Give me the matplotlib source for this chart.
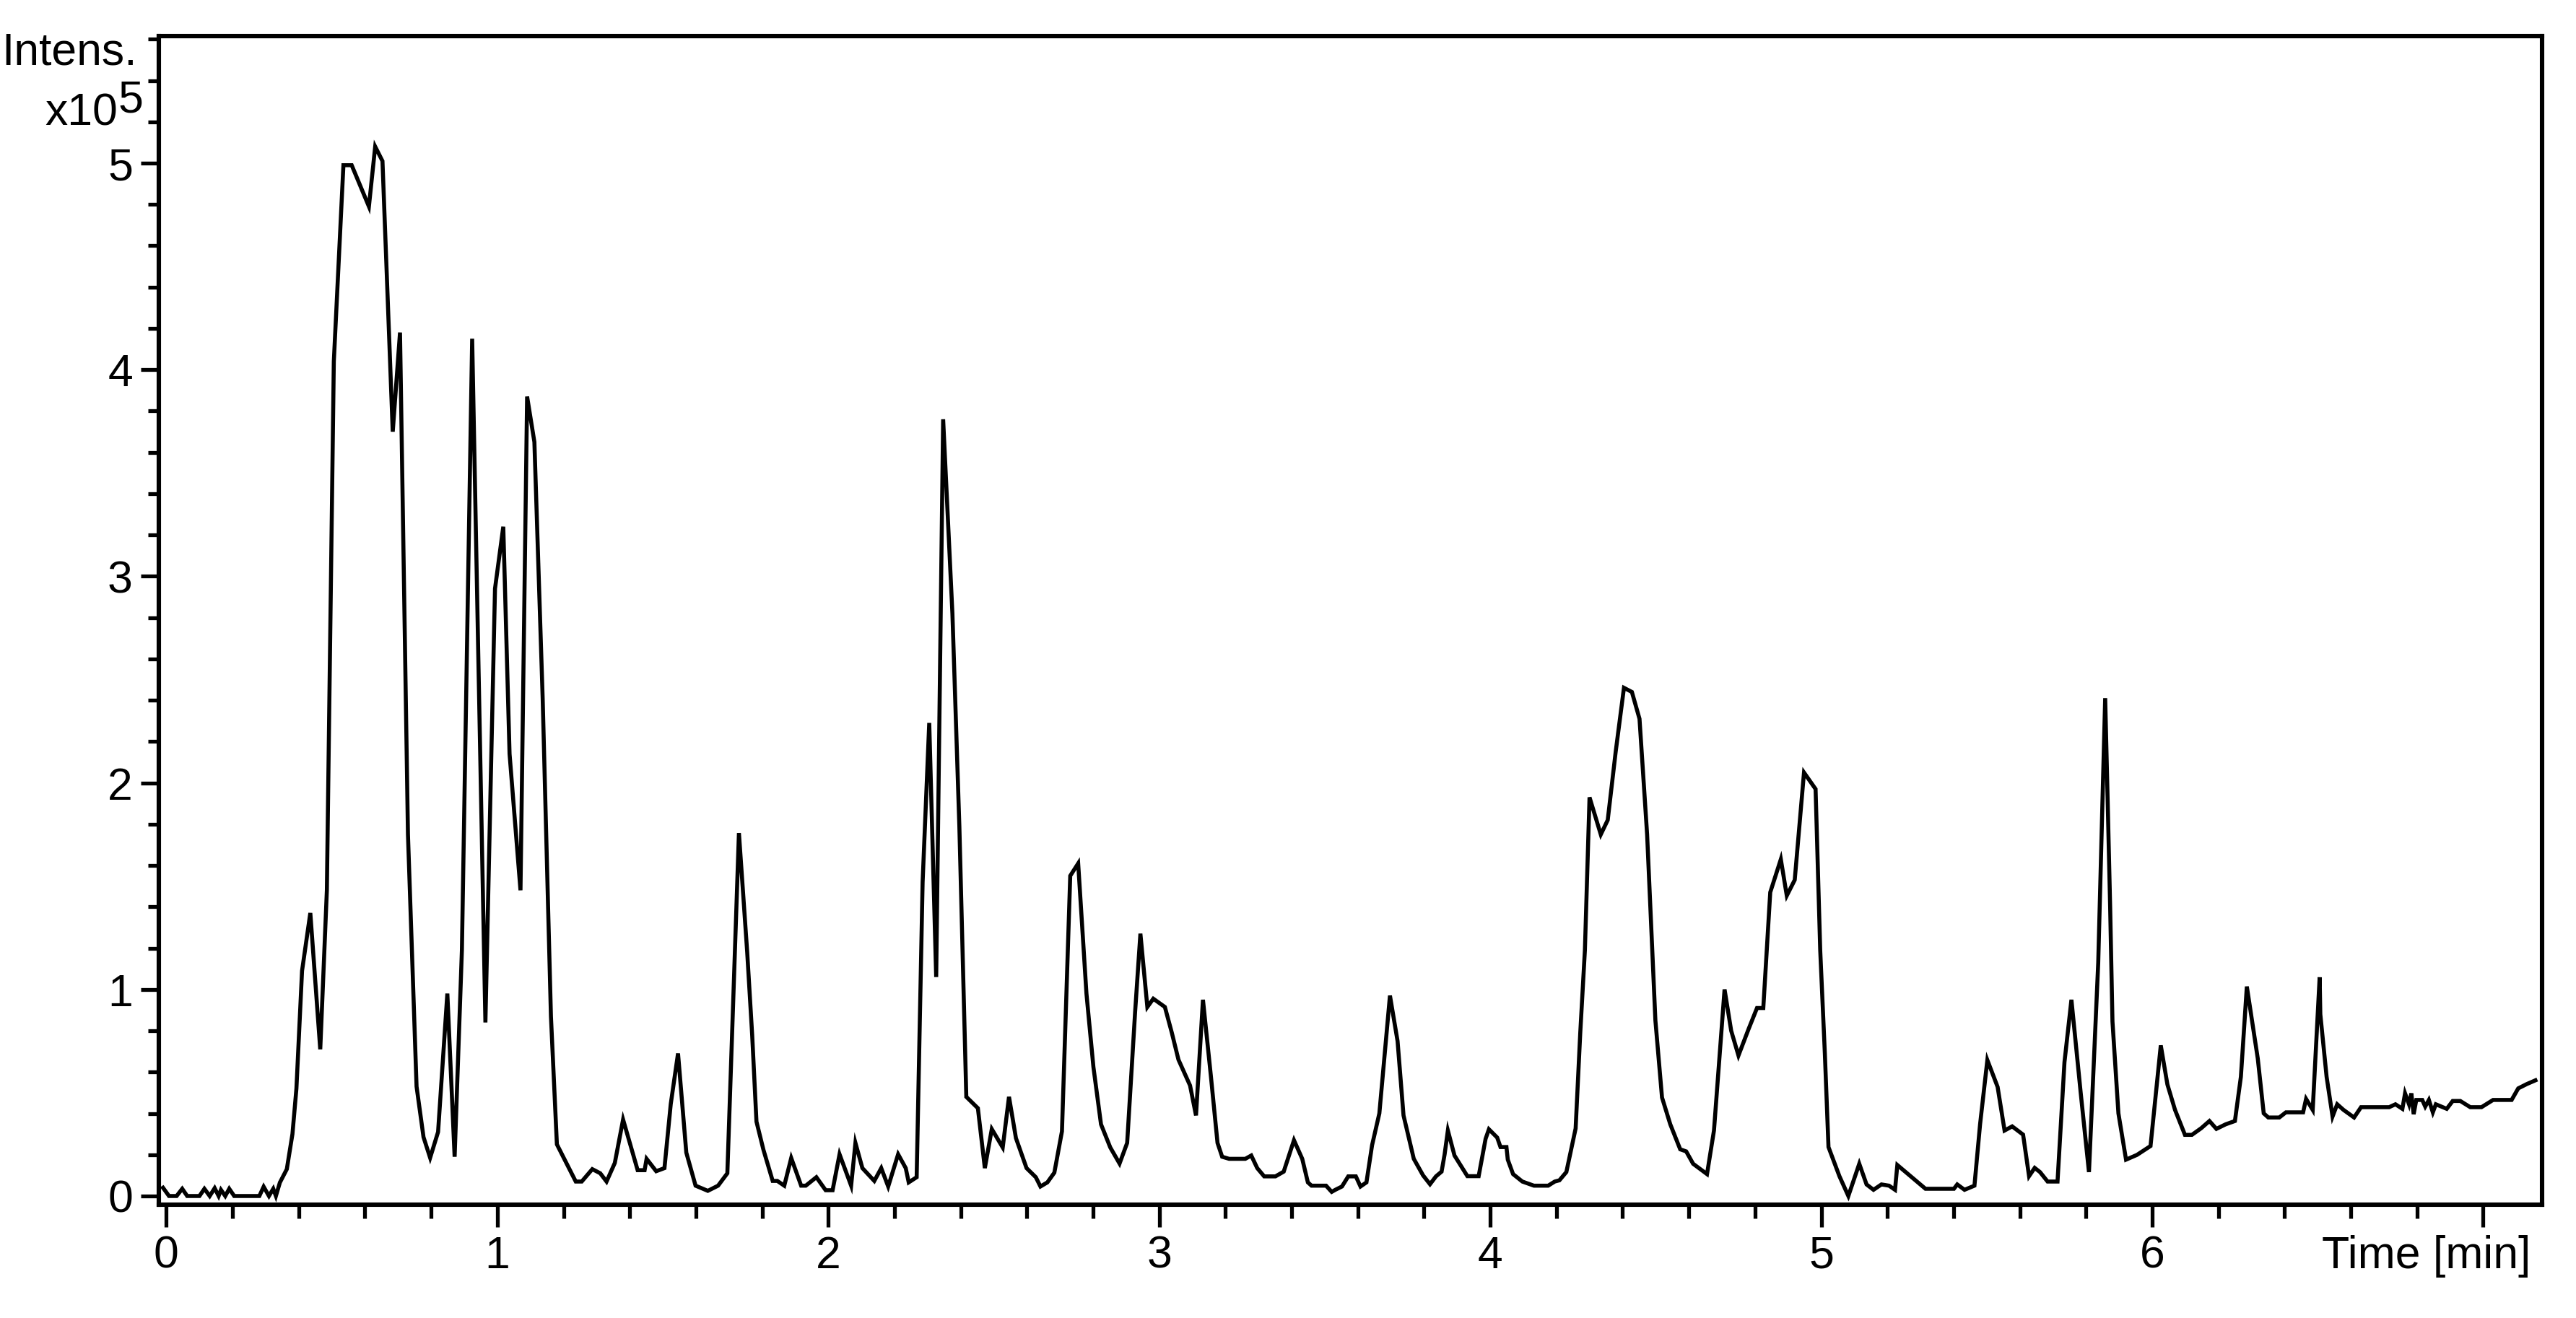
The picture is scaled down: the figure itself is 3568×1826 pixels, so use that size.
import matplotlib
matplotlib.use("Agg")
import matplotlib.pyplot as plt
from matplotlib.ticker import MultipleLocator, FixedLocator, FixedFormatter

# chromatogram trace, time in min, intensity in units of 1e5
time_min = [
    -0.01, 0.008, 0.031, 0.048, 0.063, 0.10, 0.115, 0.131, 0.146, 0.158,
    0.165, 0.178, 0.19, 0.205, 0.281, 0.294, 0.31, 0.323, 0.331, 0.343,
    0.364, 0.381, 0.393, 0.410, 0.435, 0.465, 0.485, 0.506, 0.535, 0.560,
    0.612, 0.631, 0.653, 0.684, 0.706, 0.730, 0.756, 0.777, 0.797, 0.821,
    0.849, 0.871, 0.893, 0.924, 0.964, 0.993, 1.018, 1.037, 1.070, 1.090,
    1.112, 1.137, 1.162, 1.180, 1.237, 1.255, 1.287, 1.311, 1.330, 1.355,
    1.380, 1.405, 1.424, 1.445, 1.451, 1.480, 1.505, 1.524, 1.546, 1.571,
    1.599, 1.636, 1.667, 1.695,
    1.730, 1.755, 1.770, 1.783, 1.804, 1.832, 1.846, 1.867, 1.888, 1.918,
    1.932, 1.964, 1.992, 2.013, 2.034, 2.069, 2.082, 2.103, 2.139, 2.160,
    2.181, 2.211, 2.234, 2.243, 2.267, 2.285, 2.305, 2.326, 2.347, 2.375,
    2.396, 2.417, 2.452, 2.473, 2.494, 2.527, 2.546, 2.567, 2.599, 2.627,
    2.641, 2.662, 2.683, 2.706, 2.731, 2.755, 2.780, 2.801, 2.824, 2.852,
    2.880, 2.903, 2.927, 2.943, 2.964, 2.982, 3.017, 3.038, 3.058, 3.093,
    3.111, 3.132, 3.156, 3.176, 3.190, 3.211, 3.260, 3.278, 3.296, 3.317,
    3.351, 3.376, 3.407, 3.432, 3.449, 3.460, 3.504, 3.521, 3.532, 3.552,
    3.571, 3.594, 3.608, 3.626, 3.643, 3.665, 3.697, 3.720, 3.738, 3.769,
    3.797, 3.818, 3.836, 3.853, 3.862,
    3.872, 3.892, 3.931, 3.965, 3.986, 3.996, 4.021, 4.031, 4.049, 4.053,
    4.069, 4.097, 4.132, 4.175, 4.195, 4.209, 4.230, 4.258, 4.272, 4.286,
    4.300, 4.334, 4.355, 4.379, 4.404, 4.428, 4.451, 4.474, 4.499, 4.519,
    4.544, 4.574, 4.592, 4.613, 4.655, 4.676, 4.708, 4.728, 4.750, 4.781,
    4.806, 4.825, 4.846, 4.878, 4.896, 4.920, 4.948, 4.983, 4.997, 5.011,
    5.022, 5.055, 5.082, 5.115, 5.137, 5.158, 5.182, 5.205, 5.223, 5.230,
    5.315, 5.401, 5.411, 5.433, 5.463, 5.480, 5.502, 5.533, 5.554, 5.577,
    5.610, 5.628, 5.645, 5.661, 5.684, 5.714, 5.735, 5.756, 5.784, 5.809,
    5.837, 5.858,
    5.866, 5.873, 5.880, 5.898, 5.921, 5.954, 5.995, 6.026, 6.046, 6.069,
    6.099, 6.12, 6.148, 6.173, 6.194, 6.222, 6.25, 6.268, 6.286, 6.319,
    6.337, 6.351, 6.384, 6.404, 6.456, 6.465, 6.485, 6.506, 6.508, 6.527,
    6.545, 6.559, 6.578, 6.61, 6.631, 6.716, 6.735, 6.756, 6.764, 6.776,
    6.783, 6.790, 6.798, 6.816, 6.825, 6.836, 6.848, 6.857, 6.89, 6.908,
    6.931, 6.961, 6.995, 7.03, 7.086, 7.106, 7.132, 7.158,
]
intens = [
    0.04, 0.0, 0.0, 0.035, 0.0, 0.0, 0.035, 0.0, 0.038, 0.0,
    0.03, 0.0, 0.035, 0.0, 0.0, 0.045, 0.0, 0.035, 0.0, 0.065,
    0.13, 0.30, 0.52, 1.09, 1.37, 0.71, 1.48, 4.04, 4.99, 4.99,
    4.79, 5.08, 5.01, 3.70, 4.18, 1.75, 0.53, 0.285, 0.185, 0.31,
    0.98, 0.19, 1.19, 4.15, 0.84, 2.94, 3.24, 2.14, 1.48, 3.87,
    3.65, 2.41, 0.87, 0.25, 0.07, 0.07, 0.13, 0.11, 0.07, 0.16,
    0.37, 0.23, 0.125, 0.125, 0.18, 0.12, 0.135, 0.445, 0.69, 0.21,
    0.05, 0.025, 0.05, 0.11,
    1.757, 1.18, 0.78, 0.36, 0.224, 0.073, 0.073, 0.05, 0.184, 0.05,
    0.05, 0.091, 0.028, 0.028, 0.202, 0.05, 0.257, 0.135, 0.073, 0.135,
    0.046, 0.202, 0.135, 0.066, 0.091, 1.52, 2.29, 1.06, 3.76, 2.82,
    1.79, 0.48, 0.425, 0.135, 0.324, 0.235, 0.48, 0.28, 0.135, 0.091,
    0.046, 0.066, 0.113, 0.313, 1.55, 1.61, 0.98, 0.625, 0.347, 0.235,
    0.157, 0.257, 0.89, 1.27, 0.915, 0.955, 0.915, 0.79, 0.66, 0.535,
    0.39, 0.95, 0.58, 0.257, 0.19, 0.18, 0.18, 0.196, 0.135, 0.095,
    0.095, 0.118, 0.27, 0.18, 0.066, 0.05, 0.05, 0.02, 0.03, 0.046,
    0.095, 0.095, 0.046, 0.066, 0.246, 0.40, 0.97, 0.75, 0.39, 0.18,
    0.10, 0.057, 0.095, 0.118, 0.2,
    0.317, 0.196, 0.096, 0.096, 0.277, 0.323, 0.283, 0.237, 0.237, 0.176,
    0.106, 0.07, 0.05, 0.05, 0.07, 0.076, 0.116, 0.327, 0.79, 1.19,
    1.93, 1.75, 1.82, 2.15, 2.46, 2.44, 2.31, 1.75, 0.85, 0.477,
    0.347, 0.226, 0.216, 0.156, 0.106, 0.317, 1.0, 0.80, 0.68, 0.81,
    0.91, 0.91, 1.47, 1.63, 1.454, 1.53, 2.05, 1.97, 1.19, 0.69,
    0.237, 0.096, 0.0, 0.156, 0.056, 0.03, 0.056, 0.05, 0.03, 0.15,
    0.035, 0.035, 0.056, 0.03, 0.05, 0.347, 0.658, 0.528, 0.317, 0.337,
    0.297, 0.096, 0.136, 0.116, 0.07, 0.07, 0.648, 0.95, 0.50, 0.116,
    1.13, 2.41,
    1.88, 1.40, 0.845, 0.40, 0.176, 0.199, 0.242, 0.729, 0.54, 0.417,
    0.296, 0.296, 0.328, 0.363, 0.325, 0.347, 0.363, 0.577, 1.014, 0.666,
    0.40, 0.38, 0.38, 0.405, 0.405, 0.47, 0.417, 1.059, 0.88, 0.577,
    0.385, 0.444, 0.417, 0.38, 0.43, 0.43, 0.444, 0.422, 0.497, 0.444,
    0.497, 0.396, 0.465, 0.465, 0.433, 0.465, 0.405, 0.444, 0.422, 0.46,
    0.46, 0.43, 0.43, 0.465, 0.465, 0.521, 0.542, 0.56,
]

x_ticks = [0, 1, 2, 3, 4, 5, 6, 7]
x_labels = ["0", "1", "2", "3", "4", "5", "6", ""]
y_ticks = [0, 1, 2, 3, 4, 5]

plt.rcParams['font.family'] = ['Liberation Sans Narrow', 'Liberation Sans', 'DejaVu Sans']
FS = 22.5

W, H = 3568, 1826
fig = plt.figure(figsize=(W / 200, H / 200), dpi=200)
ax = fig.add_axes([220 / W, 1 - 1669 / H, (3521 - 220) / W, (1669 - 50) / H])

ax.plot(time_min, intens, color="black", lw=2.0, solid_joinstyle="miter")

ax.set_xlim(-0.0227, 7.178)
ax.set_ylim(-0.042, 5.615)

ax.xaxis.set_major_locator(FixedLocator(x_ticks))
ax.xaxis.set_major_formatter(FixedFormatter(x_labels))
ax.xaxis.set_minor_locator(MultipleLocator(0.2))
ax.yaxis.set_major_locator(FixedLocator(y_ticks))
ax.yaxis.set_minor_locator(MultipleLocator(0.2))

for s in ax.spines.values():
    s.set_linewidth(2.2)

ax.tick_params(axis="x", which="major", length=11, width=1.9, pad=4, labelsize=FS, direction="out")
ax.tick_params(axis="x", which="minor", length=7, width=1.9, direction="out")
ax.tick_params(axis="y", which="major", length=9, width=1.9, pad=4, labelsize=FS, direction="out")
ax.tick_params(axis="y", which="minor", length=5.5, width=1.9, direction="out")

# axis captions placed like the instrument software does
fig.text(3505 / W, 1 - 1757 / H, "Time [min]", ha="right", va="baseline", fontsize=FS)
fig.text(190 / W, 1 - 90 / H, "Intens.", ha="right", va="baseline", fontsize=FS)
fig.text(163 / W, 1 - 173 / H, "x10", ha="right", va="baseline", fontsize=FS)
fig.text(163 / W, 1 - 155 / H, "5", ha="left", va="baseline", fontsize=FS)

fig.savefig("out.png", dpi=200)
